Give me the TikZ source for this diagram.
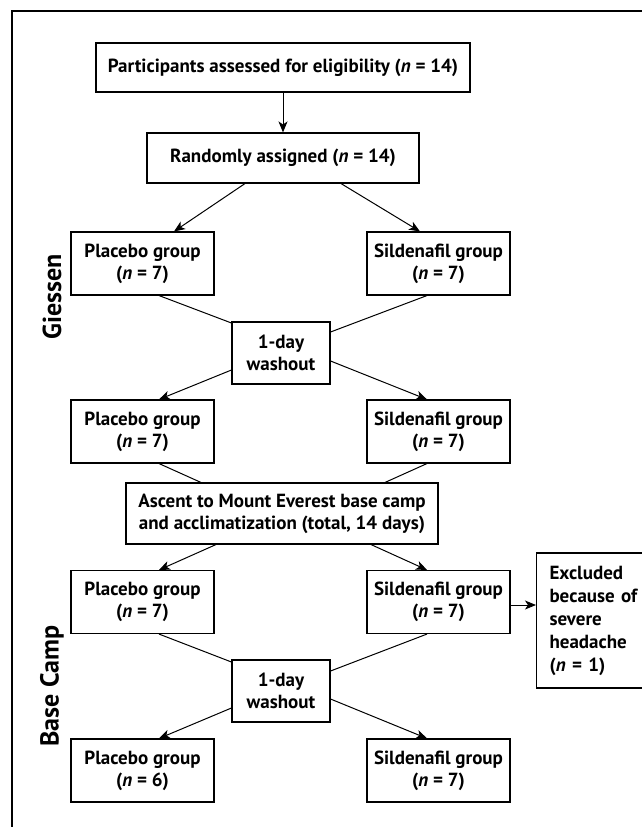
\documentclass[tikz,border=0pt]{standalone}
\usepackage{fontspec}
\setmainfont{PT Sans}
\usetikzlibrary{arrows.meta}
\tikzset{
  box/.style={draw=black,line width=1.1pt,align=center,inner sep=0pt,
    font=\bfseries\fontsize{19}{22}\selectfont},
  grp/.style={box,minimum width=143pt,minimum height=63pt},
  wash/.style={box,minimum width=98pt,minimum height=62pt},
  arr/.style={-{Stealth[length=11pt,width=9pt,inset=3pt]},line width=1pt},
  conn/.style={line width=1pt},
  site/.style={rotate=90,font=\bfseries\fontsize{26}{30}\selectfont},
}

\begin{document}
\begin{tikzpicture}[x=1pt,y=-1pt]
  \clip (0,0) rectangle (642,827);
  \draw[line width=1.1pt] (12,11) rectangle (700,900);
  % boxes
  \node[box,minimum width=374pt,minimum height=49pt] (elig) at (283,67.5)
    {Participants assessed for eligibility (\textit{n} = 14)};
  \node[box,minimum width=272pt,minimum height=50pt] (rand) at (283,158)
    {Randomly assigned (\textit{n} = 14)};
  \node[grp] (plac1) at (142.5,263.5) {Placebo group\\(\textit{n} = 7)};
  \node[grp] (sild1) at (438.5,263.5) {Sildenafil group\\(\textit{n} = 7)};
  \node[wash] (wash1) at (281,353) {1-day\\washout};
  \node[grp] (plac2) at (142.5,431.5) {Placebo group\\(\textit{n} = 7)};
  \node[grp] (sild2) at (438.5,431.5) {Sildenafil group\\(\textit{n} = 7)};
  \node[box,minimum width=312pt,minimum height=61pt] (ascent) at (282,513.5)
    {Ascent to Mount Everest base camp\\and acclimatization (total, 14 days)};
  \node[grp] (plac3) at (142.5,602) {Placebo group\\(\textit{n} = 7)};
  \node[grp] (sild3) at (438.5,602) {Sildenafil group\\(\textit{n} = 7)};
  \node[box,anchor=west,text width=110pt,align=left,inner xsep=13pt,
    minimum height=135pt,font=\bfseries\fontsize{19}{23}\selectfont] (excl) at (536,620.5)
    {Excluded\\because of\\severe\\headache\\(\textit{n} = 1)};
  \node[wash] (wash2) at (281,691) {1-day\\washout};
  \node[grp] (plac4) at (142.5,770.5) {Placebo group\\(\textit{n} = 6)};
  \node[grp] (sild4) at (438.5,770.5) {Sildenafil group\\(\textit{n} = 7)};
  % site labels
  \node[site] (giessen) at (52,297) {Giessen};
  \node[site] (camp) at (52,686) {Base Camp};
  % connectors
  \draw[arr] (elig.south) -- (rand.north);
  \draw[arr] ([xshift=-38pt]rand.south) -- ([xshift=31.5pt]plac1.north);
  \draw[arr] ([xshift=58pt]rand.south) -- ([xshift=-18.5pt]sild1.north);
  \draw[conn] ([xshift=16.5pt]plac1.south) -- ([yshift=30pt]wash1.west);
  \draw[conn] ([xshift=-11.5pt]sild1.south) -- ([yshift=21pt]wash1.east);
  \draw[arr] ([yshift=-17pt]wash1.west) -- ([xshift=16.5pt]plac2.north);
  \draw[arr] ([yshift=-8pt]wash1.east) -- ([xshift=-11.5pt]sild2.north);
  \draw[conn] ([xshift=16.5pt]plac2.south) -- ([xshift=-81pt]ascent.north);
  \draw[conn] ([xshift=-11.5pt]sild2.south) -- ([xshift=103pt]ascent.north);
  \draw[arr] ([xshift=-66pt]ascent.south) -- ([xshift=16.5pt]plac3.north);
  \draw[arr] ([xshift=89pt]ascent.south) -- ([xshift=-11.5pt]sild3.north);
  \draw[arr] ([yshift=-3pt]sild3.east) -- ([yshift=-3pt]sild3.east -| excl.west);
  \draw[conn] ([xshift=16.5pt]plac3.south) -- ([yshift=29pt]wash2.west);
  \draw[conn] ([xshift=-11.5pt]sild3.south) -- ([yshift=20pt]wash2.east);
  \draw[arr] ([yshift=-17pt]wash2.west) -- ([xshift=16.5pt]plac4.north);
  \draw[arr] ([yshift=-8pt]wash2.east) -- ([xshift=-11.5pt]sild4.north);
\end{tikzpicture}
\end{document}
